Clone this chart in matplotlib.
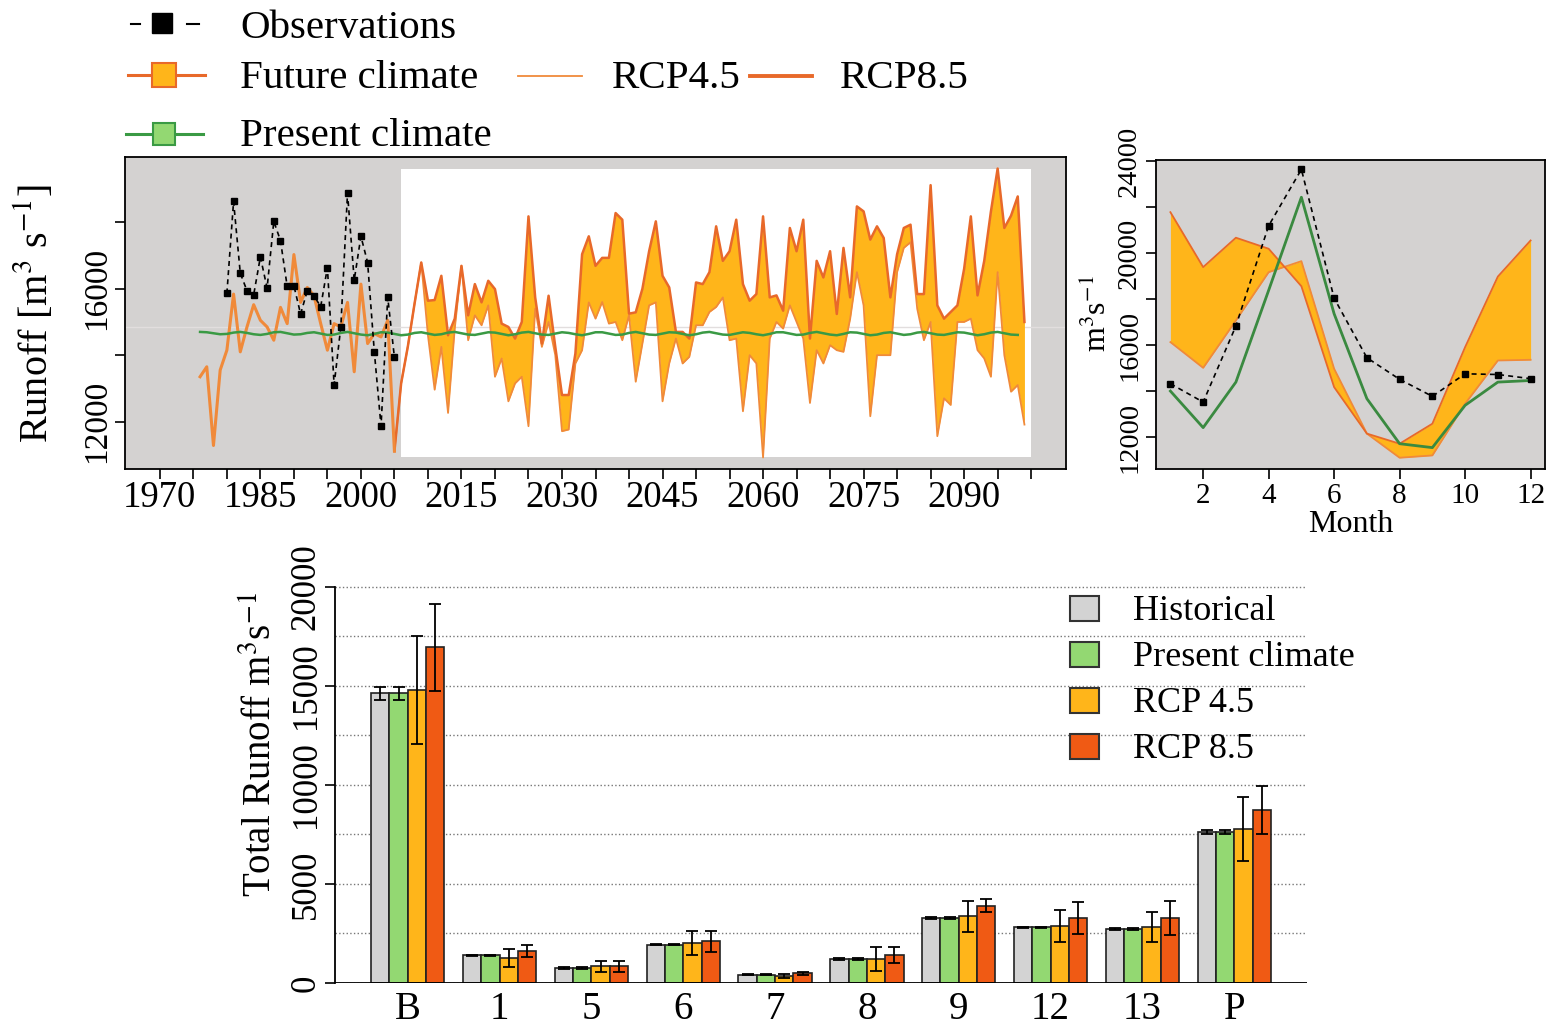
import numpy as np
import matplotlib
matplotlib.use("Agg")
from matplotlib import pyplot as plt
from matplotlib.patches import Rectangle

plt.rcParams['font.family'] = ['Liberation Serif', 'DejaVu Serif']
plt.rcParams['mathtext.fontset'] = 'stix'

# ---------------- data: annual series ----------------
obs_years = np.arange(1980, 2006)
obs_runoff = [15860, 18630, 16470, 15940, 15820, 16960, 16020, 18030, 17450, 16070,
              16090, 15240, 15940, 15790, 15460, 16640, 13100, 14850, 18880, 16260,
              17580, 16790, 14100, 11860, 15740, 13930]

hist_years = np.arange(1976, 2006)
hist_runoff = [13350, 13650, 11280, 13550, 14150, 15840, 14100, 14850, 15520, 15050,
               14850, 14450, 15440, 14950, 17030, 15590, 16040, 15790, 14950, 14150,
               14950, 14850, 15590, 13500, 16140, 14350, 14650, 14550, 15050, 11110]

fut_years = np.arange(2005, 2100)
rcp85_runoff = [11110, 13150, 14260, 15550, 16790, 15640, 15660, 16390, 14600, 15100,  # 2005-
                16690, 15200, 16140, 15590, 16240, 15990, 14950, 14850, 14500, 15000,  # 2015-
                18180, 15740, 14350, 15790, 14250, 12800, 12800, 14050, 17040, 17580,  # 2025-
                16690, 16930, 16930, 18280, 18080, 15250, 15290, 16000, 17130, 18030,  # 2035-
                16390, 16040, 14700, 14700, 14500, 16190, 16140, 16500, 17880, 16840,  # 2045-
                17130, 18080, 16140, 15640, 15840, 18180, 15740, 15800, 15340, 17830,  # 2055-
                17130, 18080, 14500, 16840, 16340, 17130, 15240, 17230, 15740, 18480,  # 2065-
                18330, 17480, 17880, 17530, 15740, 17040, 17830, 17930, 15840, 15840,  # 2075-
                19120, 15500, 15100, 15300, 15500, 16600, 18180, 15800, 16840, 18330,  # 2085-
                19620, 17830, 18200, 18780, 15000]                                      # 2095-
rcp45_runoff = [11110, 13150, 14260, 15550, 16790, 14600, 12960, 14250, 12260, 14800,
                16690, 14450, 15200, 14900, 15500, 13350, 13900, 12610, 13150, 13350,
                11860, 15400, 14250, 15000, 14000, 11710, 11760, 13750, 14150, 15590,
                15100, 15600, 14950, 15000, 14450, 15200, 13200, 14350, 15500, 15590,
                12610, 13750, 14500, 13750, 13950, 14900, 14900, 15300, 15450, 15740,
                14450, 14500, 12310, 14000, 13750, 10920, 14500, 15000, 14800, 15500,
                15000, 14500, 12560, 14150, 13750, 14300, 14150, 14100, 15100, 16500,
                15500, 12160, 14000, 14000, 14000, 16500, 17230, 17400, 15400, 14450,
                15000, 11560, 12700, 12500, 15000, 15000, 15100, 14150, 13900, 13350,
                16500, 14000, 12900, 13100, 11910]

present_years = np.arange(1976, 2099)
present_runoff = [14700, 14690, 14660, 14630, 14640, 14680, 14700, 14670, 14630, 14610,
                  14640, 14690, 14700, 14660, 14620, 14630, 14670, 14690, 14650, 14610,
                  14620, 14670, 14700, 14660, 14620, 14600, 14640, 14690, 14680, 14640,
                  14600, 14620, 14670, 14690, 14650, 14610, 14630, 14680, 14700, 14660,
                  14620, 14610, 14650, 14690, 14680, 14640, 14600, 14630, 14680, 14700,
                  14660, 14620, 14610, 14650, 14690, 14670, 14630, 14600, 14640, 14690,
                  14690, 14650, 14610, 14620, 14670, 14700, 14660, 14620, 14610, 14650,
                  14690, 14680, 14640, 14600, 14630, 14680, 14700, 14660, 14620, 14610,
                  14650, 14690, 14670, 14630, 14600, 14640, 14690, 14690, 14650, 14610,
                  14620, 14670, 14700, 14660, 14620, 14600, 14640, 14690, 14680, 14640,
                  14600, 14620, 14670, 14690, 14650, 14610, 14630, 14680, 14700, 14660,
                  14620, 14610, 14650, 14690, 14680, 14640, 14600, 14630, 14680, 14700,
                  14660, 14620, 14610]
ref_level = 14860

# ---------------- data: monthly cycle ----------------
months = np.arange(1, 13)
obs_month = [14320, 13520, 16830, 21190, 23640, 18040, 15450, 14510, 13770, 14750, 14720, 14540]
present_month = [14000, 12410, 14390, 18380, 22430, 17360, 13670, 11710, 11540, 13380, 14390, 14460]
rcp85_month = [21780, 19390, 20670, 20190, 18560, 14170, 12150, 11710, 12580, 15910, 18980, 20550]
rcp45_month = [16130, 15010, 17070, 19170, 19650, 14970, 12150, 11100, 11200, 13450, 15330, 15360]

# ---------------- data: totals per station ----------------
stations = ['B', '1', '5', '6', '7', '8', '9', '12', '13', 'P']
tot_hist = [14620, 1400, 760, 1930, 420, 1210, 3280, 2810, 2720, 7630]
tot_present = [14620, 1400, 760, 1930, 420, 1210, 3280, 2810, 2720, 7630]
tot_rcp45 = [14790, 1250, 840, 2020, 340, 1210, 3360, 2890, 2810, 7780]
tot_rcp85 = [16950, 1600, 840, 2100, 500, 1430, 3900, 3280, 3280, 8740]
err_hist = [330, 30, 30, 30, 20, 30, 40, 40, 40, 120]
err_present = [330, 30, 30, 30, 20, 30, 40, 40, 40, 120]
err_rcp45 = [2730, 460, 270, 610, 100, 590, 770, 800, 760, 1620]
err_rcp85 = [2190, 310, 270, 550, 80, 400, 340, 820, 840, 1230]

# ---------------- colours ----------------
bg = '#d4d2d1'
c_fill = '#ffb51a'
c_45 = '#f08a3a'
c_85 = '#e8692a'
c_green = '#3a9a44'
c_green_l = '#93d872'
c_grey = '#d3d3d3'
c_red = '#f05a14'

W, H = 1546, 1031
fig = plt.figure(figsize=(W / 100, H / 100), dpi=100)


def box(l, t, r, b):
    return [l / W, 1 - b / H, (r - l) / W, (b - t) / H]


ov = fig.add_axes([0, 0, 1, 1], zorder=10)
ov.set_xlim(0, W)
ov.set_ylim(H, 0)
ov.axis('off')

# ================= annual series =================
ax = fig.add_axes(box(125, 157, 1066, 469))
ax.set_facecolor(bg)
all_vals = np.concatenate([hist_runoff, rcp45_runoff, rcp85_runoff])
lo, hi = all_vals.min(), all_vals.max()
pad = 0.04 * (hi - lo)
ax.set_ylim(lo - pad, hi + pad)
ax.set_xlim(1970 - 5.2, 2100 + 5.2)
ax.add_patch(Rectangle((2006, lo), 2100 - 2006, hi - lo, facecolor='white', edgecolor='none', zorder=0.5))
ax.axhline(ref_level, color='#e2dede', lw=1.0, zorder=0.8)
ax.fill_between(fut_years, rcp45_runoff, rcp85_runoff, color=c_fill, lw=0, zorder=1)
ax.plot(fut_years, rcp45_runoff, color=c_45, lw=1.3, zorder=2)
ax.plot(fut_years, rcp85_runoff, color=c_85, lw=1.8, zorder=2)
ax.plot(hist_years, hist_runoff, color=c_45, lw=2.2, zorder=2)
ax.plot(present_years, present_runoff, color=c_green, lw=1.8, zorder=3)
ax.plot(obs_years, obs_runoff, color='black', ls='--', dashes=(3, 2.5), lw=1.2,
        marker='s', ms=5, zorder=4)

ax.set_xticks(np.arange(1970, 2101, 5))
ax.set_xticklabels([str(y) if (y - 1970) % 15 == 0 and y < 2100 else '' for y in range(1970, 2101, 5)])
ax.set_yticks([12000, 14000, 16000, 18000])
ax.set_yticklabels(['12000', '', '16000', ''])
ax.tick_params(axis='x', labelsize=26.5, length=7, width=1.2, pad=1)
ax.tick_params(axis='y', labelsize=24, length=7, width=1.2, pad=2, labelrotation=90)
for t in ax.get_yticklabels():
    t.set_va('center')
for s in ax.spines.values():
    s.set_linewidth(1.3)
ax.set_ylabel('Runoff [m$^{3}$ s$^{-1}$]', fontsize=29, va='center')
ax.yaxis.set_label_coords(35, 313, transform=ov.transData)

# ================= monthly cycle =================
ax2 = fig.add_axes(box(1156, 160, 1545, 469))
ax2.set_facecolor(bg)
ax2.fill_between(months, rcp45_month, rcp85_month, color=c_fill, lw=0, zorder=1)
ax2.plot(months, rcp45_month, color=c_45, lw=1.3, zorder=2)
ax2.plot(months, rcp85_month, color=c_85, lw=1.3, zorder=2)
ax2.plot(months, present_month, color='#3a8a40', lw=2.0, zorder=3)
ax2.plot(months, obs_month, color='black', ls='--', dashes=(3, 2.5), lw=1.2,
         marker='s', ms=4.5, zorder=4)
ax2.set_xlim(1 - 0.44, 12 + 0.44)
ax2.set_ylim(10610, 24050)
ax2.set_xticks(np.arange(2, 13, 2))
ax2.set_yticks(np.arange(12000, 24001, 2000))
ax2.set_yticklabels([str(v) if v % 4000 == 0 else '' for v in range(12000, 24001, 2000)])
ax2.tick_params(axis='x', labelsize=21, length=7, width=1.2, pad=3)
ax2.tick_params(axis='y', labelsize=20.5, length=7, width=1.2, pad=3, labelrotation=90)
for t in ax2.get_yticklabels():
    t.set_va('center')
for s in ax2.spines.values():
    s.set_linewidth(1.3)
ax2.set_xlabel('Month', fontsize=23, labelpad=-6)
ax2.set_ylabel('m$^{3}$s$^{-1}$', fontsize=23, va='center')
ax2.yaxis.set_label_coords(1097, 313, transform=ov.transData)
ax2.xaxis.set_label_coords(1351, 524, transform=ov.transData)
ax2.xaxis.label.set_va('center')

# ================= totals bar chart =================
ax3 = fig.add_axes(box(335, 575, 1307, 983))
x0 = 1 + 5 * np.arange(len(stations))
series = [(tot_hist, err_hist, c_grey), (tot_present, err_present, c_green_l),
          (tot_rcp45, err_rcp45, c_fill), (tot_rcp85, err_rcp85, c_red)]
for j, (vals, errs, col) in enumerate(series):
    ax3.bar(x0 + j + 0.5, vals, width=1, color=col, edgecolor='#222222', lw=1.2,
            yerr=errs, capsize=4, error_kw=dict(elinewidth=1.3, capthick=1.3, ecolor='black'),
            zorder=3)
ax3.set_xlim(-0.96, 51.96)
ax3.set_ylim(0, 20600)
ax3.set_yticks(np.arange(0, 20001, 5000))
ax3.set_yticks(np.arange(2500, 20000, 5000), minor=True)
ax3.grid(axis='y', which='both', ls=':', color='#777777', lw=1.0)
ax3.set_axisbelow(True)
ax3.axhline(0, color='black', lw=1.3, zorder=4)
ax3.set_xticks(x0 + 2)
ax3.set_xticklabels(stations)
ax3.tick_params(axis='x', labelsize=28, length=0, pad=6)
ax3.tick_params(axis='y', labelsize=25, length=7, width=1.2, pad=2, labelrotation=90)
ax3.tick_params(axis='y', which='minor', length=0)
for t in ax3.get_yticklabels():
    t.set_va('center')
for k in ['top', 'right', 'bottom']:
    ax3.spines[k].set_visible(False)
ax3.spines['left'].set_bounds(0, 20000)
ax3.spines['left'].set_linewidth(1.3)
ax3.set_ylabel('Total Runoff m$^{3}$s$^{-1}$', fontsize=28, va='center')
ax3.yaxis.set_label_coords(262, 745, transform=ov.transData)

# ================= legends =================
fs_leg = 29.5
ov.plot([131, 140], [24, 24], color='black', lw=1.5)
ov.plot([187, 199], [24, 24], color='black', lw=1.5)
ov.plot([162], [23], 's', color='black', ms=15)
ov.text(240, 29, 'Observations', fontsize=fs_leg, va='center', ha='left')

ov.plot([128, 205], [75, 75], color=c_85, lw=2.2)
ov.plot([164], [75], 's', ms=17, mfc=c_fill, mec=c_85, mew=1.5)
ov.text(240, 79, 'Future climate', fontsize=fs_leg, va='center', ha='left')

ov.plot([126, 203], [134, 134], color=c_green, lw=2.2)
ov.plot([164], [134], 's', ms=16, mfc=c_green_l, mec=c_green, mew=1.5)
ov.text(240, 136, 'Present climate', fontsize=fs_leg, va='center', ha='left')

ov.plot([518, 582], [76, 76], color=c_45, lw=1.3)
ov.text(612, 78, 'RCP4.5', fontsize=fs_leg, va='center', ha='left')
ov.plot([750, 812], [76, 76], color=c_85, lw=2.8)
ov.text(840, 78, 'RCP8.5', fontsize=fs_leg, va='center', ha='left')

bar_labels = ['Historical', 'Present climate', 'RCP 4.5', 'RCP 8.5']
bar_cols = [c_grey, c_green_l, c_fill, c_red]
for i, (lab, col) in enumerate(zip(bar_labels, bar_cols)):
    yc = 608 + 46 * i
    ov.add_patch(Rectangle((1070, yc - 12.5), 29, 25, facecolor=col, edgecolor='#333333', lw=1.5))
    ov.text(1133, yc + 4, lab, fontsize=26, va='center', ha='left')

fig.savefig('out.png', dpi=100)
